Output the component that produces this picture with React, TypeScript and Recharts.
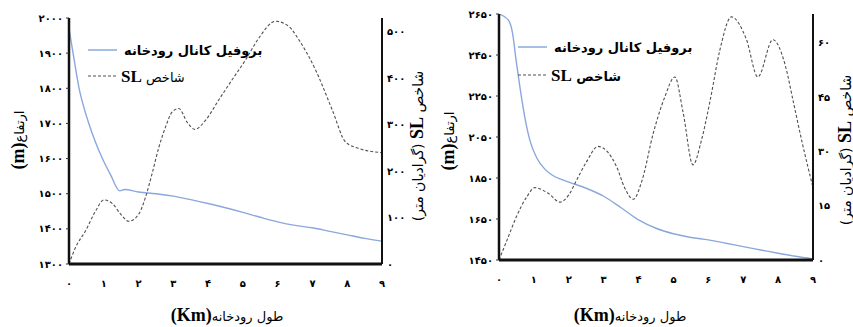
import React from 'react';
import { ComposedChart, Line, XAxis, YAxis } from 'recharts';

// ---------- shared ----------
const kmTicks = [0, 1, 2, 3, 4, 5, 6, 7, 8, 9];
const profileName = 'بروفیل کانال رودخانه';
const slName = 'شاخص SL';

// ---------- chart A (left) ----------
const aProfileKm = [0, 0.15, 0.29, 0.43, 0.57, 0.76, 0.96, 1.2, 1.46, 1.6, 2, 2.5, 3, 3.5, 4, 4.5, 5, 5.5, 6, 6.5, 7, 7.5, 8, 8.5, 9];
const aProfileElev = [1970, 1880, 1800, 1745, 1700, 1647, 1600, 1553, 1508, 1512, 1505, 1500, 1493, 1483, 1472, 1460, 1447, 1433, 1420, 1410, 1403, 1393, 1383, 1373, 1365];
const aSlKm = [0, 0.19, 0.48, 0.77, 1.0, 1.25, 1.48, 1.72, 2.01, 2.2, 2.39, 2.59, 2.78, 2.97, 3.16, 3.4, 3.62, 3.93, 4.31, 4.69, 5.08, 5.46, 5.94, 6.32, 6.61, 7.09, 7.57, 7.95, 8.33, 9];
const aSlVal = [0, 36, 72, 115, 138, 130, 108, 92, 108, 144, 195, 253, 296, 328, 335, 305, 290, 310, 354, 397, 440, 487, 523, 512, 483, 418, 332, 263, 249, 240];
const aElevTicks = [1300, 1400, 1500, 1600, 1700, 1800, 1900, 2000];
const aSlTicks = [0, 100, 200, 300, 400, 500];

// ---------- chart B (right) ----------
const bProfileKm = [0, 0.27, 0.39, 0.49, 0.6, 0.74, 0.89, 1.08, 1.32, 1.5, 2, 2.5, 3, 3.5, 4, 4.5, 5, 5.5, 6, 6.5, 7, 7.5, 8, 8.5, 9];
const bProfileElev = [2650, 2620, 2555, 2424, 2293, 2146, 2031, 1949, 1892, 1867, 1830, 1800, 1761, 1705, 1646, 1605, 1578, 1560, 1548, 1532, 1515, 1499, 1483, 1468, 1455];
const bSlKm = [0, 0.25, 0.5, 0.8, 1.03, 1.4, 1.75, 2.0, 2.22, 2.5, 2.84, 3.1, 3.37, 3.6, 3.85, 4.1, 4.42, 4.75, 5.04, 5.28, 5.56, 5.8, 6.05, 6.33, 6.66, 7.09, 7.42, 7.85, 8.2, 8.43, 8.7, 8.98];
const bSlVal = [0, 6, 12, 17.5, 20, 18.5, 16, 18, 22, 27, 31.4, 30, 25.8, 20, 16.8, 22, 35, 45, 50.6, 40.6, 26.3, 33, 44, 58, 67.2, 61, 50.6, 60.9, 54, 44, 32, 20.8];
const bElevTicks = [1450, 1650, 1850, 2050, 2250, 2450, 2650];
const bSlTicks = [0, 15, 30, 45, 60];

const FA_DIGITS = '۰۱۲۳۴۵۶۷۸۹';
const toFa = (v: number | string) => String(v).replace(/\d/g, (d) => FA_DIGITS[Number(d)]);

const PERSIAN = "'DejaVu Sans', sans-serif";
const LATIN = "'Liberation Serif', 'DejaVu Serif', serif";
const BLUE = '#8AA8DC';
const GRAY = '#505050';

const tickStyle = { fill: '#000', fontSize: 10, fontFamily: PERSIAN, fontWeight: 700 };
const axisLine = { stroke: '#111', strokeWidth: 2.5 };

type ChartCfg = {
  profileKm: number[];
  profileElev: number[];
  slKm: number[];
  slVal: number[];
  elevTicks: number[];
  slTicks: number[];
  elevDomain: [number, number];
  slDomain: [number, number];
  top: number;
  bottom: number;
  rightWidth: number;
  legendTop: number;
  legendGap: number;
  slLegendBold: boolean;
  xTitleX: number;
  leftTitleY: number;
  rightTitleX: number;
  rightTitleY: number;
};

function RiverChart({ cfg }: { cfg: ChartCfg }) {
  const profile = cfg.profileKm.map((km, i) => ({ km, elev: cfg.profileElev[i] }));
  const sl = cfg.slKm.map((km, i) => ({ km, sl: cfg.slVal[i] }));
  return (
    <div style={{ position: 'relative', width: 426, height: 327 }}>
      <ComposedChart width={426} height={327} margin={{ top: cfg.top, right: 0, bottom: cfg.bottom, left: 0 }}>
        <XAxis
          dataKey="km"
          type="number"
          domain={[0, 9]}
          ticks={kmTicks}
          tickFormatter={toFa}
          tick={tickStyle}
          tickLine={false}
          tickSize={6}
          tickMargin={10}
          height={30}
          axisLine={{ stroke: '#111', strokeWidth: 3 }}
          allowDataOverflow
        />
        <YAxis
          yAxisId="left"
          orientation="left"
          domain={cfg.elevDomain}
          ticks={cfg.elevTicks}
          tickFormatter={toFa}
          tick={tickStyle}
          tickLine={{ stroke: '#333', strokeWidth: 1 }}
          tickSize={3}
          tickMargin={3}
          width={69}
          axisLine={axisLine}
          allowDataOverflow
        />
        <YAxis
          yAxisId="right"
          orientation="right"
          domain={cfg.slDomain}
          ticks={cfg.slTicks}
          tickFormatter={toFa}
          tick={tickStyle}
          tickLine={false}
          tickSize={2}
          tickMargin={3}
          width={cfg.rightWidth}
          axisLine={{ stroke: '#111', strokeWidth: 2 }}
          allowDataOverflow
        />
        <Line
          data={profile}
          dataKey="elev"
          yAxisId="left"
          type="monotone"
          stroke={BLUE}
          strokeWidth={1.4}
          dot={false}
          isAnimationActive={false}
          name={profileName}
        />
        <Line
          data={sl}
          dataKey="sl"
          yAxisId="right"
          type="monotone"
          stroke={GRAY}
          strokeWidth={1.1}
          strokeDasharray="3 2"
          dot={false}
          isAnimationActive={false}
          name={slName}
        />
      </ComposedChart>

      {/* legend */}
      <div style={{ position: 'absolute', left: 88, top: cfg.legendTop, lineHeight: 1 }}>
        <div style={{ display: 'flex', alignItems: 'center', height: 18 }}>
          <svg width={30} height={4} style={{ display: 'block' }}>
            <line x1={0} y1={2} x2={29} y2={2} stroke={BLUE} strokeWidth={1.5} />
          </svg>
          <span dir="rtl" style={{ marginLeft: 6, fontFamily: PERSIAN, fontSize: 13, fontWeight: 700, whiteSpace: 'nowrap' }}>
            {profileName}
          </span>
        </div>
        <div style={{ display: 'flex', alignItems: 'center', height: 18, marginTop: cfg.legendGap }}>
          <svg width={30} height={4} style={{ display: 'block' }}>
            <line x1={0} y1={2} x2={29} y2={2} stroke={GRAY} strokeWidth={1.2} strokeDasharray="3 2" />
          </svg>
          <span dir="rtl" style={{ marginLeft: 3, fontFamily: PERSIAN, fontSize: 13, fontWeight: cfg.slLegendBold ? 700 : 400, whiteSpace: 'nowrap' }}>
            شاخص <b style={{ fontFamily: LATIN, fontSize: 17 }}>SL</b>
          </span>
        </div>
      </div>

      {/* x title */}
      <div
        dir="rtl"
        style={{ position: 'absolute', left: cfg.xTitleX, top: 315, transform: 'translate(-50%, -50%)', whiteSpace: 'nowrap', fontFamily: PERSIAN, fontSize: 13 }}
      >
        طول رودخانه<b style={{ fontFamily: LATIN, fontSize: 18 }}>(Km)</b>
      </div>

      {/* left y title */}
      <div
        dir="rtl"
        style={{ position: 'absolute', left: 18, top: cfg.leftTitleY, transform: 'translate(-50%, -50%) rotate(-90deg)', whiteSpace: 'nowrap', fontFamily: PERSIAN, fontSize: 13 }}
      >
        ارتفاع<b style={{ fontFamily: LATIN, fontSize: 18 }}>(m)</b>
      </div>

      {/* right y title */}
      <div
        dir="rtl"
        style={{ position: 'absolute', left: cfg.rightTitleX, top: cfg.rightTitleY, transform: 'translate(-50%, -50%) rotate(-90deg)', whiteSpace: 'nowrap', fontFamily: PERSIAN, fontSize: 14 }}
      >
        شاخص <b style={{ fontFamily: LATIN, fontSize: 18 }}>SL</b> (گرادیان متر)
      </div>
    </div>
  );
}

const cfgA: ChartCfg = {
  profileKm: aProfileKm,
  profileElev: aProfileElev,
  slKm: aSlKm,
  slVal: aSlVal,
  elevTicks: aElevTicks,
  slTicks: aSlTicks,
  elevDomain: [1300, 2000],
  slDomain: [0, 530],
  top: 18,
  bottom: 33,
  rightWidth: 44,
  legendTop: 41,
  legendGap: 8,
  slLegendBold: false,
  xTitleX: 227,
  leftTitleY: 140,
  rightTitleX: 417,
  rightTitleY: 146,
};

const cfgB: ChartCfg = {
  profileKm: bProfileKm,
  profileElev: bProfileElev,
  slKm: bSlKm,
  slVal: bSlVal,
  elevTicks: bElevTicks,
  slTicks: bSlTicks,
  elevDomain: [1450, 2650],
  slDomain: [0, 68],
  top: 14,
  bottom: 37,
  rightWidth: 43,
  legendTop: 38,
  legendGap: 10,
  slLegendBold: true,
  xTitleX: 200,
  leftTitleY: 141,
  rightTitleX: 415,
  rightTitleY: 150,
};

export default function App() {
  return (
    <div style={{ position: 'absolute', left: 0, top: 0, width: 853, height: 327, background: '#fff', overflow: 'hidden' }}>
      <div style={{ position: 'absolute', left: 0, top: 0 }}>
        <RiverChart cfg={cfgA} />
      </div>
      <div style={{ position: 'absolute', left: 430, top: 0 }}>
        <RiverChart cfg={cfgB} />
      </div>
    </div>
  );
}
